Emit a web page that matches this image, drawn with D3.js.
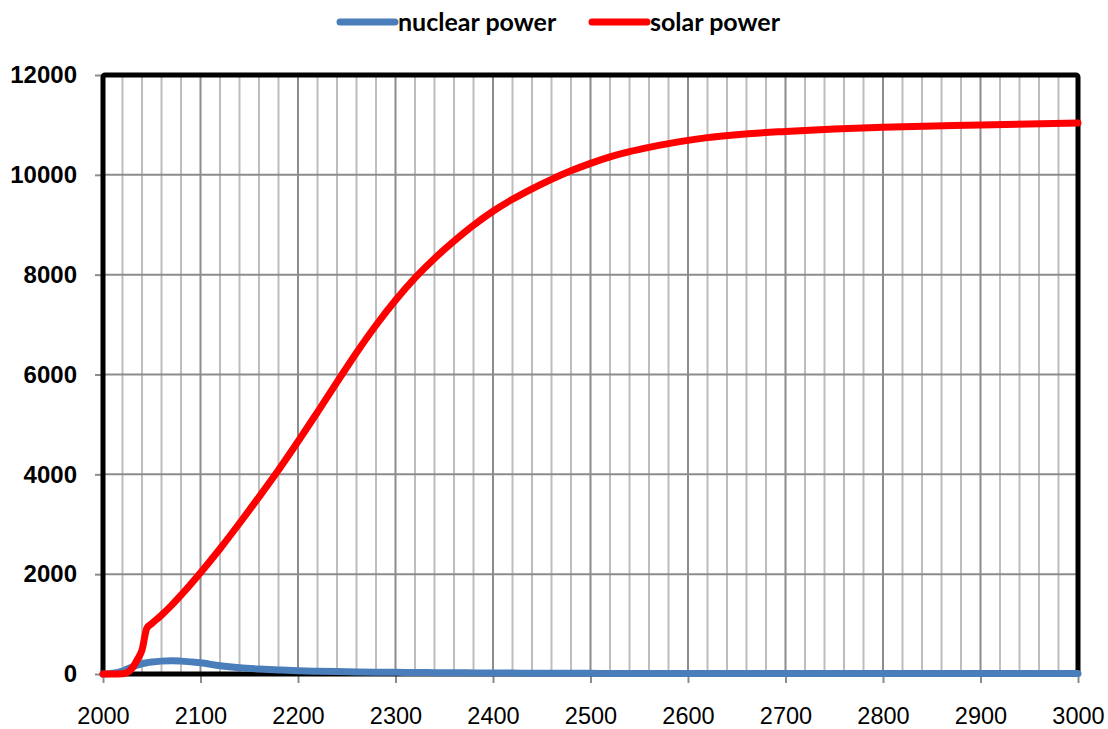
<!DOCTYPE html>
<html>
<head>
<meta charset="utf-8">
<script src="https://cdn.jsdelivr.net/npm/d3@7"></script>
<style>
  body { margin: 0; background: #fff; }
  svg { font-family: Lato, "Open Sans", sans-serif; }
</style>
</head>
<body>
<svg id="chart" width="1108" height="729"></svg>
<script>
// values
var years = [2000, 2010, 2020, 2025, 2030, 2035, 2040, 2045, 2050, 2060, 2070, 2080, 2100, 2120, 2140, 2160, 2180,
  2200, 2220, 2240, 2260, 2280, 2300, 2320, 2340, 2360, 2380, 2400, 2420, 2440, 2460, 2480,
  2500, 2520, 2540, 2560, 2580, 2600, 2620, 2650, 2700, 2750, 2800, 2900, 3000]
var solarPower = [0, 0, 5, 30, 120, 280, 480, 920, 1010, 1180, 1370, 1580, 2030, 2510, 3020, 3547, 4087,
  4657, 5247, 5847, 6437, 6987, 7487, 7935, 8325, 8672, 8990, 9270, 9510, 9720, 9910, 10080,
  10230, 10360, 10465, 10550, 10625, 10690, 10745, 10805, 10870, 10920, 10955, 11000, 11040]
var nuclearPower = [0, 15, 60, 100, 140, 175, 205, 225, 240, 258, 265, 258, 225, 165, 125, 100, 82,
  66, 56, 48, 42, 37, 34, 30, 27, 24, 22, 20, 18, 16, 15, 14,
  13, 12, 11, 11, 10, 10, 10, 10, 10, 10, 10, 10, 10]
var seriesNames = ['nuclear power', 'solar power']
var seriesColors = ['#4a7ebb', '#ff0000']
var yTicks = [0, 2000, 4000, 6000, 8000, 10000, 12000]
var xTicks = [2000, 2100, 2200, 2300, 2400, 2500, 2600, 2700, 2800, 2900, 3000]

var svg = d3.select('#chart')

var plotLeft = 103, plotRight = 1078, plotTop = 75, plotBottom = 674

var xScale = d3.scaleLinear().domain([2000, 3000]).range([plotLeft, plotRight])
var yScale = d3.scaleLinear().domain([0, 12000]).range([plotBottom, plotTop])

// vertical grid every 20 years, darker at the centuries
var minor = d3.range(2020, 3000, 20)
svg.append('g').selectAll('line').data(minor)
  .enter().append('line')
  .attr('x1', d => xScale(d)).attr('x2', d => xScale(d))
  .attr('y1', plotTop).attr('y2', plotBottom)
  .attr('stroke', d => d % 100 === 0 ? '#8c8c8c' : '#bdbdbd')
  .attr('stroke-width', 2)

// horizontal grid
svg.append('g').selectAll('line').data(yTicks.slice(1, -1))
  .enter().append('line')
  .attr('x1', plotLeft).attr('x2', plotRight)
  .attr('y1', d => yScale(d)).attr('y2', d => yScale(d))
  .attr('stroke', '#8c8c8c')
  .attr('stroke-width', 2)

// axes
var yAxis = d3.axisLeft(yScale).tickValues(yTicks).tickSize(8).tickPadding(18).tickFormat(d3.format('d'))
var xAxis = d3.axisBottom(xScale).tickValues(xTicks).tickSize(9).tickPadding(24).tickFormat(d3.format('d'))

var yG = svg.append('g').attr('transform', 'translate(' + plotLeft + ',0)').call(yAxis)
yG.select('.domain').remove()
yG.selectAll('line').attr('stroke', '#8c8c8c').attr('stroke-width', 2)
yG.selectAll('text').attr('font-size', 24).attr('font-weight', 'bold').attr('fill', '#000')

var xG = svg.append('g').attr('transform', 'translate(0,' + plotBottom + ')').call(xAxis)
xG.select('.domain').remove()
xG.selectAll('line').attr('stroke', '#8c8c8c').attr('stroke-width', 2)
xG.selectAll('text').attr('font-size', 23.5).attr('fill', '#000')

// plot frame
svg.append('rect')
  .attr('x', plotLeft).attr('y', plotTop)
  .attr('width', plotRight - plotLeft).attr('height', plotBottom - plotTop)
  .attr('rx', 2)
  .attr('fill', 'none')
  .attr('stroke', '#000')
  .attr('stroke-width', 5)

var line = d3.line()
  .x((d, i) => xScale(years[i]))
  .y(d => yScale(d))
  .curve(d3.curveMonotoneX)

svg.append('path').datum(nuclearPower)
  .attr('d', line)
  .attr('fill', 'none')
  .attr('stroke', seriesColors[0])
  .attr('stroke-width', 7)
  .attr('stroke-linecap', 'round')
  .attr('stroke-linejoin', 'round')

svg.append('path').datum(solarPower)
  .attr('d', line)
  .attr('fill', 'none')
  .attr('stroke', seriesColors[1])
  .attr('stroke-width', 7)
  .attr('stroke-linecap', 'round')
  .attr('stroke-linejoin', 'round')

// legend
var legendX = [340, 592]
var legend = svg.append('g').selectAll('g').data(seriesNames)
  .enter().append('g')
  .attr('transform', (d, i) => 'translate(' + legendX[i] + ',22)')
legend.append('line')
  .attr('x1', 0).attr('x2', 55)
  .attr('stroke', (d, i) => seriesColors[i])
  .attr('stroke-width', 7)
  .attr('stroke-linecap', 'round')
legend.append('text')
  .text(d => d)
  .attr('x', 58)
  .attr('dy', '0.35em')
  .attr('font-size', 25)
  .attr('font-weight', 'bold')
</script>
</body>
</html>
